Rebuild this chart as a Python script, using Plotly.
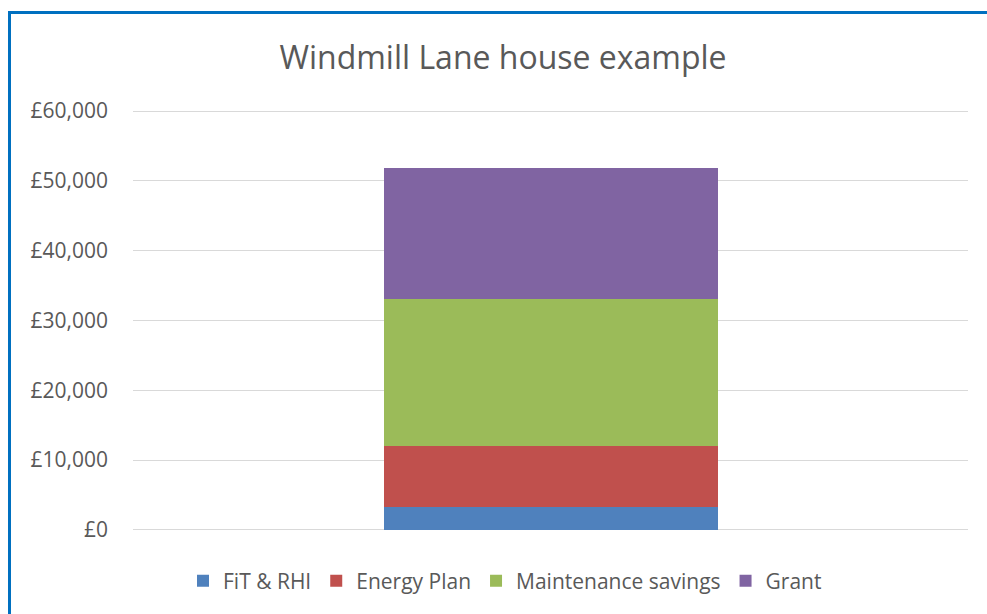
import plotly.graph_objects as go

categories = ["Windmill Lane"]
series_names = ["FiT & RHI", "Energy Plan", "Maintenance savings", "Grant"]
fit_rhi = [3250]
energy_plan = [8820]
maintenance = [20970]
grant = [18760]
colors = ["#4F81BD", "#C0504D", "#9BBB59", "#8064A2"]
tick_vals = [0, 10000, 20000, 30000, 40000, 50000, 60000]
tick_text = ["£0", "£10,000", "£20,000", "£30,000", "£40,000", "£50,000", "£60,000"]

font_family = "Open Sans, Noto Sans, sans-serif"
fig = go.Figure()
for name, vals, c in zip(series_names, [fit_rhi, energy_plan, maintenance, grant], colors):
    fig.add_trace(go.Bar(x=categories, y=vals, name=name, marker=dict(color=c, line=dict(width=0)), width=0.4))

W, H = 987, 614
# y=0 at pixel 530, y=60000 at pixel 111
pad = 150  # data units of padding so edge gridlines are drawn
ppu = (530 - 111) / 60000.0
ml, mr = 133, 19
mt = int(round(111 - pad * ppu))
mb = int(round(H - (530 + pad * ppu)))
pw, ph = W - ml - mr, H - mt - mb
ylo = -pad
yhi = 60000 + pad

def ypaper(py):
    return (H - mb - py) / ph

fig.update_layout(
    width=W, height=H,
    barmode="stack",
    plot_bgcolor="white", paper_bgcolor="white",
    margin=dict(l=ml, r=mr, t=mt, b=mb),
    title=dict(text="Windmill Lane house example", x=503 / W, xref="container", xanchor="center",
               y=1 - 58 / H, yref="container", yanchor="middle",
               font=dict(family=font_family, size=32, color="#595959")),
    font=dict(family=font_family, color="#595959"),
    showlegend=True,
    legend=dict(orientation="h", x=(505 - ml) / pw, xanchor="center", y=ypaper(581), yanchor="middle",
                traceorder="normal", font=dict(size=21, color="#595959"), itemwidth=30),
    xaxis=dict(showticklabels=False, showgrid=False, zeroline=False, showline=False, ticks=""),
    yaxis=dict(range=[ylo, yhi], tickvals=tick_vals, ticktext=tick_text, showgrid=True,
               gridcolor="#D9D9D9", gridwidth=1, zeroline=False, showline=False,
               tickfont=dict(size=21, color="#595959"), ticklabelstandoff=24),
    shapes=[dict(type="rect", xref="paper", yref="paper",
                 x0=(9.5 - ml) / pw, x1=(1100 - ml) / pw,
                 y0=ypaper(700), y1=ypaper(12.5),
                 line=dict(color="#0070C0", width=3), fillcolor="rgba(0,0,0,0)", layer="above")],
)
fig.write_html("out.html")
